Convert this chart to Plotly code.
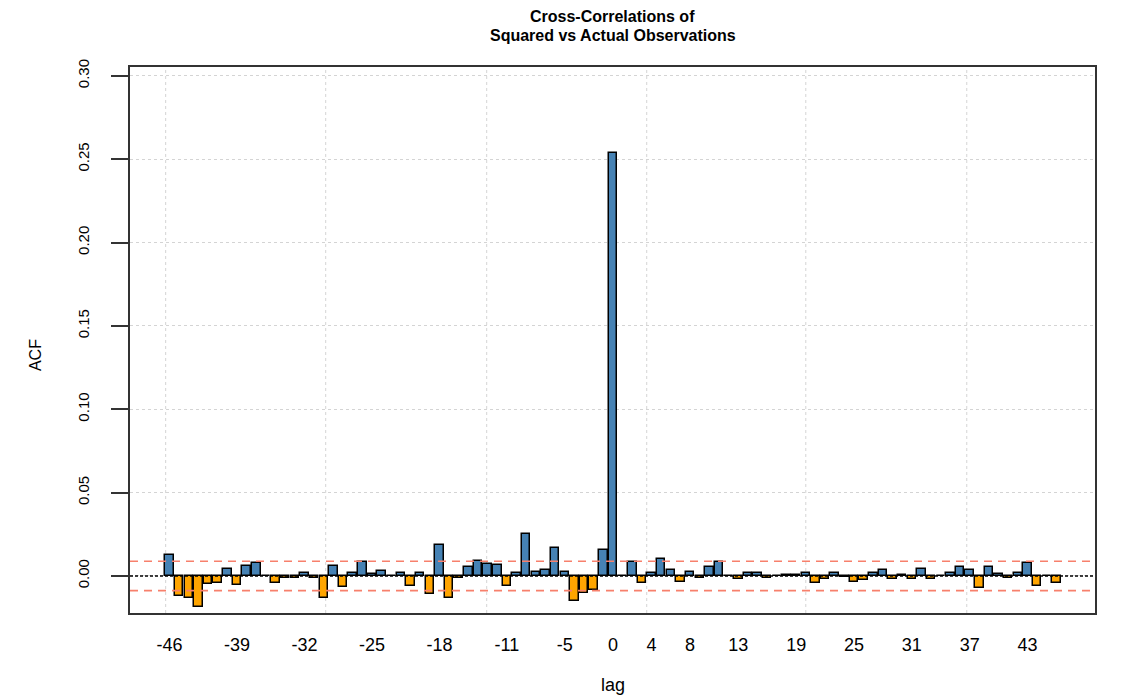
import plotly.graph_objects as go

# ---- data ----
lags = list(range(-46, 47))
acf_values = [
    0.0128, -0.0118, -0.0130, -0.0185, -0.0050, -0.0040, 0.0042, -0.0054, 0.0060, 0.0078,   # -46..-37
    0.0000, -0.0044, -0.0014, -0.0014, 0.0016, -0.0014, -0.0130, 0.0062, -0.0064, 0.0015,  # -36..-27
    0.0086, 0.0012, 0.0032, 0.0000, 0.0016, -0.0060, 0.0016, -0.0106, 0.0186, -0.0134,     # -26..-17
    -0.0010, 0.0054, 0.0090, 0.0074, 0.0064, -0.0060, 0.0016, 0.0250, 0.0024, 0.0034,      # -16..-7
    0.0166, 0.0024, -0.0150, -0.0100, -0.0084, 0.0154, 0.2540, 0.0000, 0.0084, -0.0040,    # -6..3
    0.0016, 0.0100, 0.0034, -0.0034, 0.0024, -0.0010, 0.0054, 0.0086, 0.0000, -0.0020,     # 4..13
    0.0016, 0.0016, -0.0010, 0.0000, 0.0005, 0.0003, 0.0016, -0.0044, -0.0020, 0.0016,     # 14..23
    -0.0006, -0.0034, -0.0024, 0.0016, 0.0034, -0.0020, 0.0005, -0.0020, 0.0044, -0.0020,  # 24..33
    0.0000, 0.0020, 0.0054, 0.0034, -0.0070, 0.0054, 0.0010, -0.0010, 0.0016, 0.0080,      # 34..43
    -0.0060, 0.0000, -0.0040,                                                              # 44..46
]
x_tick_vals = [-46, -39, -32, -25, -18, -11, -5, 0, 4, 8, 13, 19, 25, 31, 37, 43]
x_tick_text = [str(v) for v in x_tick_vals]
y_tick_vals = [0.0, 0.05, 0.10, 0.15, 0.20, 0.25, 0.30]
y_tick_text = ["%.2f" % v for v in y_tick_vals]
conf_bound = 0.0088
x_grid_positions = [-46.4, -29.8, -13.1, 3.5, 20.0, 36.7]

title_line1 = "Cross-Correlations of"
title_line2 = "Squared vs Actual Observations"

# ---- styling ----
BLUE = "#4682B4"
ORANGE = "#FFA500"
SALMON = "#F7806C"
FONT = "Liberation Sans, Arial, sans-serif"

colors = [BLUE if v >= 0 else ORANGE for v in acf_values]

fig = go.Figure()
fig.add_trace(go.Bar(
    x=lags, y=acf_values, width=0.88,
    marker=dict(color=colors, line=dict(color="black", width=1.5)),
    showlegend=False, hoverinfo="x+y",
))

shapes = []
for gx in x_grid_positions:
    shapes.append(dict(type="line", xref="x", yref="paper", x0=gx, x1=gx, y0=0, y1=1,
                       line=dict(color="#d4d4d4", width=1, dash="dot"), layer="below"))
for yb in (conf_bound, -conf_bound):
    shapes.append(dict(type="line", xref="paper", yref="y", x0=0, x1=1, y0=yb, y1=yb,
                       line=dict(color=SALMON, width=1.6, dash="8px,6px"), layer="above"))
shapes.append(dict(type="line", xref="paper", yref="y", x0=0, x1=1, y0=0, y1=0,
                   line=dict(color="black", width=1.4, dash="3px,2px"), layer="above"))

annotations = [
    dict(text="<b>%s</b>" % title_line1, xref="paper", yref="paper", x=0.5, y=1.0916,
         xanchor="center", yanchor="middle", showarrow=False,
         font=dict(family=FONT, size=16, color="black")),
    dict(text="<b>%s</b>" % title_line2, xref="paper", yref="paper", x=0.5, y=1.0568,
         xanchor="center", yanchor="middle", showarrow=False,
         font=dict(family=FONT, size=16, color="black")),
    dict(text="ACF", xref="paper", yref="paper", x=-0.0984, y=0.4725, textangle=-90,
         xanchor="center", yanchor="middle", showarrow=False,
         font=dict(family=FONT, size=16, color="black")),
    dict(text="lag", xref="paper", yref="paper", x=0.5005, y=-0.132,
         xanchor="center", yanchor="middle", showarrow=False,
         font=dict(family=FONT, size=18, color="black")),
]

fig.update_layout(
    template="none",
    width=1124, height=695,
    margin=dict(l=130, r=29, t=67, b=82, autoexpand=False),
    paper_bgcolor="white", plot_bgcolor="white",
    font=dict(family=FONT, color="black"),
    bargap=0,
    shapes=shapes, annotations=annotations,
    xaxis=dict(range=[-50.1, 50], tickmode="array", tickvals=x_tick_vals, ticktext=x_tick_text,
               ticks="", showgrid=False, zeroline=False, showline=True, mirror=True,
               linecolor="#333333", linewidth=2, tickfont=dict(size=18, color="black"),
               ticklabelstandoff=14),
    yaxis=dict(range=[-0.0222, 0.3053], tickmode="array", tickvals=y_tick_vals, ticktext=y_tick_text,
               ticks="outside", ticklen=17, tickwidth=2, tickcolor="#333333", tickangle=-90,
               showgrid=True, gridcolor="#d4d4d4", griddash="dot", gridwidth=1,
               zeroline=False, showline=True, mirror=True, linecolor="#333333", linewidth=2,
               tickfont=dict(size=15, color="black"), ticklabelstandoff=16),
)

fig.write_html("out.html", config={"displayModeBar": False},
               post_script="document.body.style.margin='0';document.body.style.padding='0';")
